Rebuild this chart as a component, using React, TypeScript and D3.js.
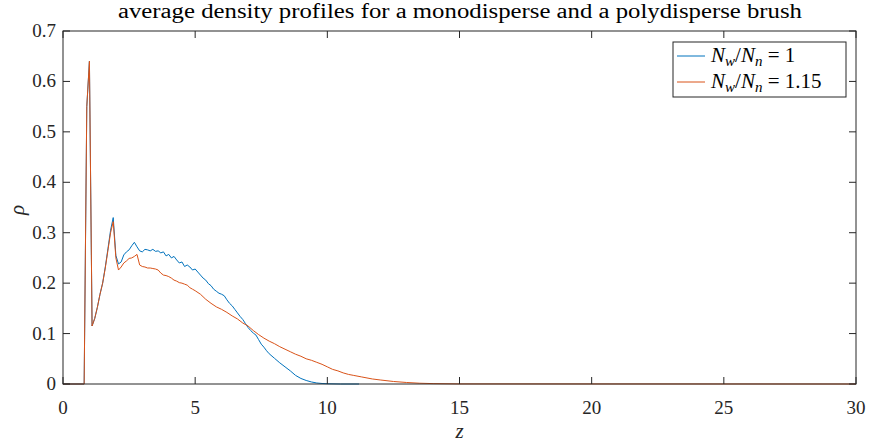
import React from "react";
import * as d3 from "d3";

// Monodisperse brush (N_w/N_n = 1)
const monoZ = [0, 0.8, 0.9, 1.0, 1.1, 1.2, 1.3, 1.4, 1.5, 1.6, 1.7, 1.8, 1.9, 2.0, 2.1, 2.2, 2.3, 2.4, 2.5, 2.6, 2.7, 2.8, 2.9, 3.0, 3.1, 3.2, 3.3, 3.4, 3.5, 3.6, 3.7, 3.8, 3.9, 4.0, 4.1, 4.2, 4.3, 4.4, 4.5, 4.6, 4.7, 4.8, 4.9, 5.0, 5.1, 5.2, 5.3, 5.4, 5.5, 5.6, 5.7, 5.8, 5.9, 6.0, 6.1, 6.2, 6.3, 6.4, 6.5, 6.6, 6.7, 6.8, 6.9, 7.0, 7.1, 7.2, 7.3, 7.4, 7.5, 7.6, 7.7, 7.8, 8.0, 8.2, 8.4, 8.6, 8.8, 9.0, 9.2, 9.4, 9.6, 9.8, 10.0, 10.5, 11.2];
const monoRho = [0, 0, 0.55, 0.64, 0.115, 0.13, 0.152, 0.178, 0.2, 0.232, 0.268, 0.305, 0.33, 0.255, 0.238, 0.242, 0.256, 0.262, 0.266, 0.274, 0.281, 0.272, 0.264, 0.262, 0.267, 0.266, 0.264, 0.267, 0.263, 0.264, 0.26, 0.262, 0.254, 0.257, 0.25, 0.253, 0.246, 0.24, 0.242, 0.233, 0.236, 0.232, 0.226, 0.228, 0.222, 0.216, 0.21, 0.206, 0.199, 0.195, 0.188, 0.184, 0.18, 0.178, 0.175, 0.167, 0.16, 0.155, 0.148, 0.141, 0.134, 0.128, 0.12, 0.112, 0.106, 0.101, 0.097, 0.088, 0.079, 0.073, 0.066, 0.06, 0.051, 0.042, 0.034, 0.026, 0.017, 0.011, 0.007, 0.004, 0.002, 0.001, 0.0005, 0, 0];

// Polydisperse brush (N_w/N_n = 1.15)
const polyZ = [0, 0.8, 0.9, 1.0, 1.1, 1.2, 1.3, 1.4, 1.5, 1.6, 1.7, 1.8, 1.9, 2.0, 2.1, 2.2, 2.3, 2.4, 2.5, 2.6, 2.7, 2.8, 2.9, 3.0, 3.1, 3.2, 3.3, 3.4, 3.5, 3.6, 3.7, 3.8, 3.9, 4.0, 4.1, 4.2, 4.3, 4.4, 4.5, 4.6, 4.7, 4.8, 4.9, 5.0, 5.2, 5.4, 5.6, 5.8, 6.0, 6.2, 6.4, 6.6, 6.8, 7.0, 7.2, 7.4, 7.6, 7.8, 8.0, 8.2, 8.4, 8.6, 8.8, 9.0, 9.2, 9.4, 9.6, 9.8, 10.0, 10.2, 10.4, 10.6, 10.8, 11.0, 11.3, 11.7, 12.0, 12.5, 13.0, 13.5, 14.0, 15.0, 30.0];
const polyRho = [0, 0, 0.55, 0.64, 0.115, 0.13, 0.152, 0.178, 0.2, 0.23, 0.265, 0.3, 0.322, 0.25, 0.226, 0.232, 0.24, 0.244, 0.249, 0.25, 0.253, 0.257, 0.236, 0.233, 0.232, 0.23, 0.23, 0.229, 0.228, 0.226, 0.22, 0.216, 0.215, 0.213, 0.21, 0.206, 0.204, 0.201, 0.2, 0.198, 0.196, 0.191, 0.188, 0.185, 0.178, 0.168, 0.16, 0.153, 0.148, 0.142, 0.135, 0.129, 0.121, 0.115, 0.106, 0.098, 0.091, 0.085, 0.08, 0.074, 0.069, 0.064, 0.059, 0.055, 0.05, 0.047, 0.043, 0.039, 0.034, 0.029, 0.026, 0.022, 0.019, 0.017, 0.014, 0.01, 0.008, 0.005, 0.003, 0.0015, 0.0008, 0.0002, 0];

const xTicks = [0, 5, 10, 15, 20, 25, 30];
const yTicks = [0, 0.1, 0.2, 0.3, 0.4, 0.5, 0.6, 0.7];
const yTickLabels = ["0", "0.1", "0.2", "0.3", "0.4", "0.5", "0.6", "0.7"];

const titleText = "average density profiles for a monodisperse and a polydisperse brush";

const W = 870;
const H = 444;
const left = 63;
const right = 856;
const top = 31;
const bottom = 384;

const BLUE = "#0072BD";
const ORANGE = "#D95319";
const AX = "#262626";
const FONT = "'Liberation Serif', 'DejaVu Serif', serif";

export default function App() {
  const x = d3.scaleLinear().domain([0, 30]).range([left, right]);
  const y = d3.scaleLinear().domain([0, 0.7]).range([bottom, top]);
  const line = d3
    .line<[number, number]>()
    .x((d) => x(d[0]))
    .y((d) => y(d[1]));

  const mono = monoZ.map((z, i) => [z, monoRho[i]] as [number, number]);
  const poly = polyZ.map((z, i) => [z, polyRho[i]] as [number, number]);
  const tickLen = 7;

  const legendEntries = [
    { color: BLUE, value: "1" },
    { color: ORANGE, value: "1.15" },
  ];

  return (
    <svg
      width={W}
      height={H}
      style={{ position: "absolute", left: 0, top: 0, background: "#fff" }}
      fontFamily={FONT}
    >
      <rect x={0} y={0} width={W} height={H} fill="#fff" />

      {/* data */}
      <path d={line(mono) || ""} fill="none" stroke={BLUE} strokeWidth={1} strokeLinejoin="round" />
      <path d={line(poly) || ""} fill="none" stroke={ORANGE} strokeWidth={1} strokeLinejoin="round" />

      {/* axes box */}
      <rect x={left} y={top} width={right - left} height={bottom - top} fill="none" stroke={AX} strokeWidth={1} />

      {xTicks.map((t) => (
        <g key={"x" + t}>
          <line x1={x(t)} x2={x(t)} y1={bottom} y2={bottom - tickLen} stroke={AX} />
          <line x1={x(t)} x2={x(t)} y1={top} y2={top + tickLen} stroke={AX} />
          <text x={x(t)} y={414} textAnchor="middle" fontSize={19} fill={AX}>
            {t}
          </text>
        </g>
      ))}
      {yTicks.map((t, i) => (
        <g key={"y" + t}>
          <line x1={left} x2={left + tickLen} y1={y(t)} y2={y(t)} stroke={AX} />
          <line x1={right} x2={right - tickLen} y1={y(t)} y2={y(t)} stroke={AX} />
          <text x={56} y={y(t) + 6} textAnchor="end" fontSize={19} fill={AX}>
            {yTickLabels[i]}
          </text>
        </g>
      ))}

      {/* title and axis labels */}
      <text
        x={118}
        y={18}
        fontSize={20}
        fill="#000"
        textLength={684}
        lengthAdjust="spacingAndGlyphs"
      >
        {titleText}
      </text>
      <text x={(left + right) / 2} y={438} textAnchor="middle" fontSize={21} fontStyle="italic" fill={AX}>
        z
      </text>
      <text
        transform={`translate(24, 210) rotate(-90)`}
        textAnchor="middle"
        fontSize={21}
        fontStyle="italic"
        fill={AX}
      >
        ρ
      </text>

      {/* legend */}
      <rect x={673} y={42} width={173} height={55} fill="#fff" stroke={AX} strokeWidth={1} />
      {legendEntries.map((e, i) => {
        const cy = 56 + i * 26;
        return (
          <g key={e.value}>
            <line x1={677} x2={705} y1={cy} y2={cy} stroke={e.color} strokeWidth={1} />
            <text x={711} y={cy + 6} fontSize={21} fill="#000">
              <tspan fontStyle="italic">N</tspan>
              <tspan fontStyle="italic" fontSize={15} dy={4}>w</tspan>
              <tspan dy={-4}>/</tspan>
              <tspan fontStyle="italic">N</tspan>
              <tspan fontStyle="italic" fontSize={15} dy={4}>n</tspan>
              <tspan dy={-4}>{" = " + e.value}</tspan>
            </text>
          </g>
        );
      })}
    </svg>
  );
}
